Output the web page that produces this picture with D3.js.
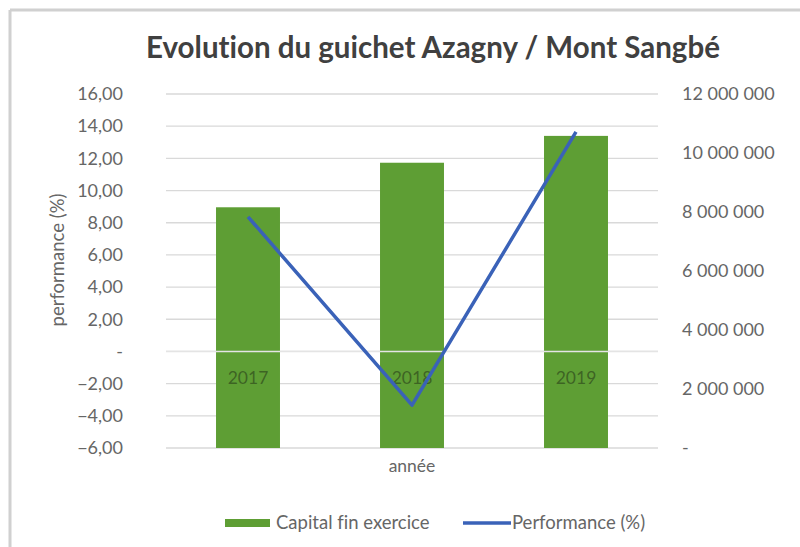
<!DOCTYPE html>
<html>
<head>
<meta charset="utf-8">
<script src="https://cdn.jsdelivr.net/npm/d3@7"></script>
<style>
  body { margin: 0; background: #fff; }
  svg { font-family: Lato, "Open Sans", sans-serif; font-variant-ligatures: none; }
</style>
</head>
<body>
<div id="chart"></div>
<script>
// Data
const years = ["2017", "2018", "2019"];
const capital = [8160000, 9670000, 10580000];
const performance = [8.37, -3.34, 13.65];
const leftTicks = [-6, -4, -2, 0, 2, 4, 6, 8, 10, 12, 14, 16];
const rightTicks = [0, 2000000, 4000000, 6000000, 8000000, 10000000, 12000000];

const w = 800, h = 547;
const plot = { left: 166, right: 658, top: 94, bottom: 448 };
const green = "#5e9e34", blue = "#3a62b8", grey = "#666666";

const svg = d3.select("#chart").append("svg")
  .attr("width", w)
  .attr("height", h);

// frame (top and left edges only)
svg.append("line").attr("x1", 10).attr("x2", w).attr("y1", 10).attr("y2", 10)
  .attr("stroke", "#d0d0d0").attr("stroke-width", 3);
svg.append("line").attr("x1", 10).attr("x2", 10).attr("y1", 10).attr("y2", h)
  .attr("stroke", "#d0d0d0").attr("stroke-width", 3);

// scales
const x = d3.scaleBand().domain(years)
  .range([plot.left, plot.right])
  .paddingInner(0.61).paddingOuter(0.305);
const yLeft = d3.scaleLinear().domain([-6, 16]).range([plot.bottom, plot.top]);
const yRight = d3.scaleLinear().domain([0, 12000000]).range([plot.bottom, plot.top]);

const fmtLeft = v => v === 0 ? "-" : d3.format(".2f")(v).replace(".", ",");
const fmtRight = v => v === 0 ? "-" : d3.format(",")(v).replace(/,/g, " ");

// gridlines
svg.append("g")
  .selectAll("line")
  .data(leftTicks)
  .enter()
  .append("line")
  .attr("x1", plot.left).attr("x2", plot.right)
  .attr("y1", d => yLeft(d)).attr("y2", d => yLeft(d))
  .attr("stroke", "#d9d9d9").attr("stroke-width", 1.3);

// left axis
const leftAxis = svg.append("g")
  .attr("transform", "translate(" + (plot.left - 43) + ",0)")
  .call(d3.axisLeft(yLeft).tickValues(leftTicks).tickFormat(fmtLeft).tickSize(0).tickPadding(0));
leftAxis.select(".domain").remove();
leftAxis.selectAll("text").attr("font-size", 18).attr("fill", grey)
  .attr("font-family", "Lato, sans-serif");

// right axis
const rightAxis = svg.append("g")
  .attr("transform", "translate(" + (plot.right + 24) + ",0)")
  .call(d3.axisRight(yRight).tickValues(rightTicks).tickFormat(fmtRight).tickSize(0).tickPadding(0));
rightAxis.select(".domain").remove();
rightAxis.selectAll("text").attr("font-size", 18).attr("fill", grey)
  .attr("font-family", "Lato, sans-serif");

// bars
svg.append("g")
  .selectAll("rect")
  .data(years)
  .enter()
  .append("rect")
  .attr("x", d => x(d))
  .attr("width", x.bandwidth())
  .attr("y", (d, i) => yRight(capital[i]))
  .attr("height", (d, i) => yRight(0) - yRight(capital[i]))
  .attr("fill", green);

// category axis at zero
svg.append("line")
  .attr("x1", plot.left).attr("x2", plot.right)
  .attr("y1", yLeft(0)).attr("y2", yLeft(0))
  .attr("stroke", "#e4e4e4").attr("stroke-width", 1.5);

const catAxis = svg.append("g")
  .attr("transform", "translate(0," + (yLeft(0) + 20) + ")")
  .call(d3.axisBottom(x).tickSize(0).tickPadding(0));
catAxis.select(".domain").remove();
catAxis.selectAll("text").attr("font-size", 17.5).attr("fill", "#2f4a1c")
  .attr("fill-opacity", 0.7)
  .attr("font-family", "Lato, sans-serif");

// line
const line = d3.line()
  .x((d, i) => x(years[i]) + x.bandwidth() / 2)
  .y(d => yLeft(d));
svg.append("path")
  .datum(performance)
  .attr("d", line)
  .attr("fill", "none")
  .attr("stroke", blue)
  .attr("stroke-width", 3.5)
  .attr("stroke-linejoin", "round");

// title
svg.append("text")
  .attr("x", 433).attr("y", 58)
  .attr("text-anchor", "middle")
  .attr("font-size", 29.5).attr("font-weight", "bold")
  .attr("fill", "#404040")
  .text("Evolution du guichet Azagny / Mont Sangbé");

// axis titles
svg.append("text")
  .attr("transform", "translate(64,260) rotate(-90)")
  .attr("text-anchor", "middle")
  .attr("font-size", 18.5).attr("fill", grey)
  .text("performance (%)");

svg.append("text")
  .attr("x", (plot.left + plot.right) / 2).attr("y", 472)
  .attr("text-anchor", "middle")
  .attr("font-size", 17.5).attr("fill", grey)
  .text("année");

// legend
const legend = svg.append("g").attr("transform", "translate(0,523)");
legend.append("rect")
  .attr("x", 225).attr("y", -4).attr("width", 45).attr("height", 8)
  .attr("fill", green);
legend.append("text")
  .attr("x", 276).attr("y", 6)
  .attr("font-size", 18.5).attr("fill", grey)
  .text("Capital fin exercice");
legend.append("line")
  .attr("x1", 463).attr("x2", 511).attr("y1", 0).attr("y2", 0)
  .attr("stroke", blue).attr("stroke-width", 3.5);
legend.append("text")
  .attr("x", 512).attr("y", 6)
  .attr("font-size", 18.5).attr("fill", grey)
  .text("Performance (%)");
</script>
</body>
</html>
